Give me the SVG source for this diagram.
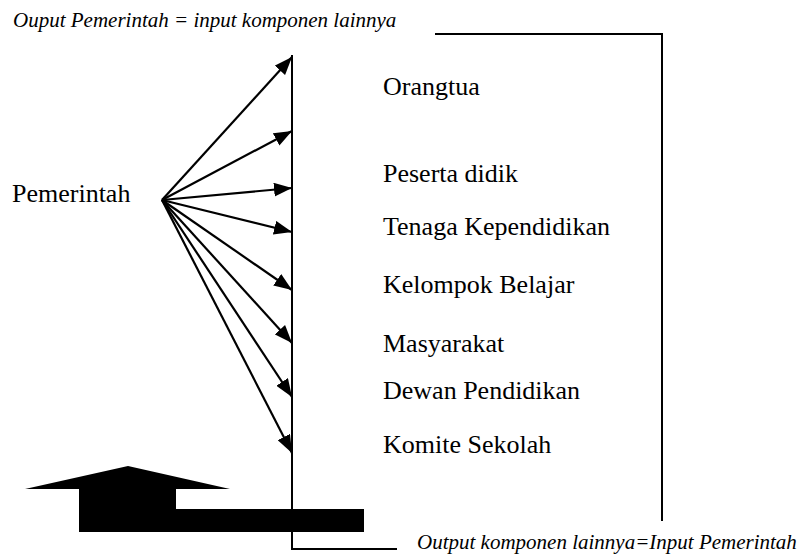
<svg xmlns="http://www.w3.org/2000/svg" width="805" height="559" viewBox="0 0 805 559">
<style>
.ln{stroke:#000;stroke-width:2;fill:none}
.arr{stroke:#000;stroke-width:2.2;fill:none;marker-end:url(#ah)}
</style>
<defs>
<marker id="ah" markerUnits="userSpaceOnUse" markerWidth="18" markerHeight="14" refX="18" refY="7" orient="auto">
<path d="M0,0 L18,7 L0,14 z" fill="#000"/>
</marker>
</defs>
<rect width="805" height="559" fill="#fff"/>
<g font-family="Liberation Serif" font-size="21" font-style="italic" fill="#000">
<text x="13" y="27">Ouput Pemerintah = input komponen lainnya</text>
<text x="417" y="549">Output komponen lainnya=Input Pemerintah</text>
</g>
<g id="frame">
<polyline class="ln" points="435,34 662,34 662,521"/>
<polyline class="ln" points="292,55 292,549 397,549"/>
</g>
<g font-family="Liberation Serif" font-size="26" fill="#000">
<g id="pemerintah"><text x="12" y="202">Pemerintah</text></g>
<g id="orangtua"><text x="383" y="95">Orangtua</text></g>
<g id="peserta-didik"><text x="383" y="182">Peserta didik</text></g>
<g id="tenaga-kependidikan"><text x="383" y="235">Tenaga Kependidikan</text></g>
<g id="kelompok-belajar"><text x="383" y="293">Kelompok Belajar</text></g>
<g id="masyarakat"><text x="383" y="352">Masyarakat</text></g>
<g id="dewan-pendidikan"><text x="383" y="399">Dewan Pendidikan</text></g>
<g id="komite-sekolah"><text x="383" y="453">Komite Sekolah</text></g>
</g>
<g id="connectors">
<line class="arr" x1="162" y1="200" x2="292" y2="57"/>
<line class="arr" x1="162" y1="200" x2="292" y2="131"/>
<line class="arr" x1="162" y1="200" x2="292" y2="188"/>
<line class="arr" x1="162" y1="200" x2="292" y2="232"/>
<line class="arr" x1="162" y1="200" x2="292" y2="290"/>
<line class="arr" x1="162" y1="200" x2="292" y2="343"/>
<line class="arr" x1="162" y1="200" x2="292" y2="397"/>
<line class="arr" x1="162" y1="200" x2="292" y2="453"/>
</g>
<g id="feedback-arrow">
<polygon points="128,466 230,489 176,489 176,509 364,509 364,532 79,532 79,489 25,489" fill="#000"/>
</g>
</svg>
